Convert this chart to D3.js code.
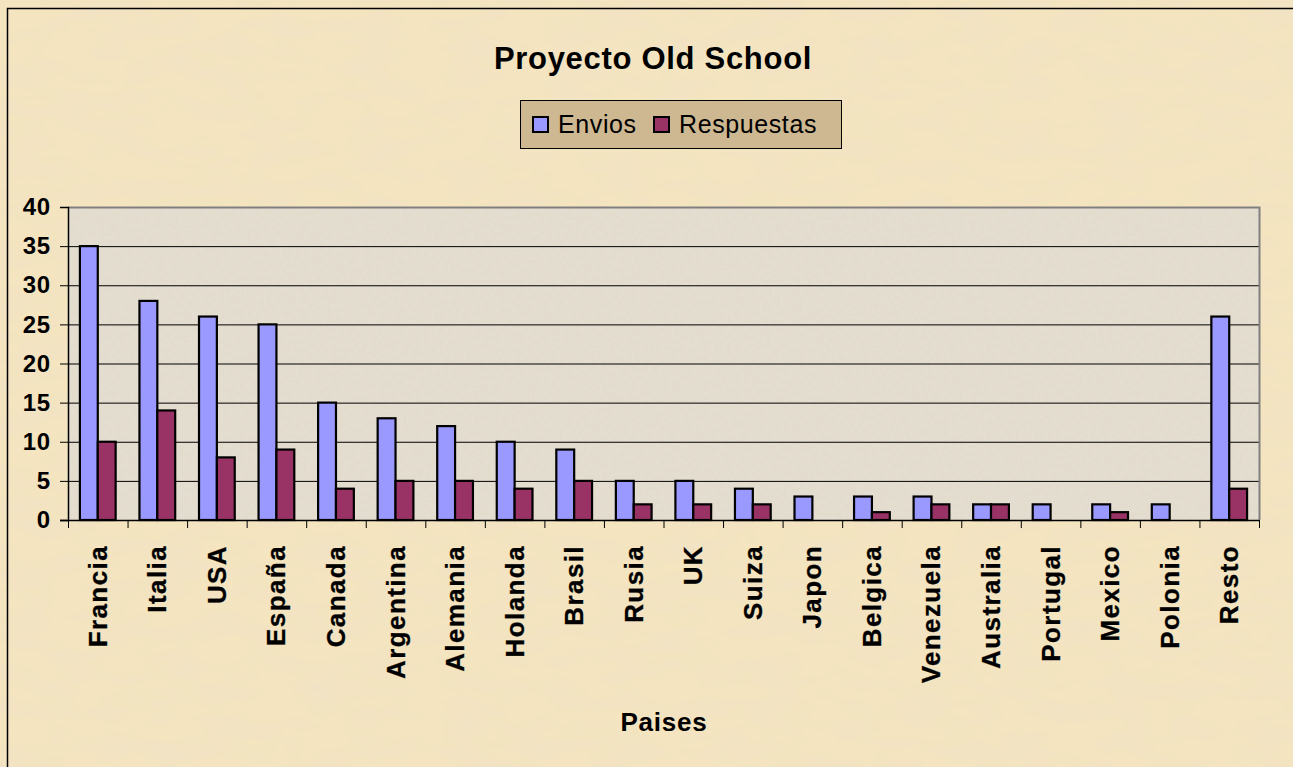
<!DOCTYPE html>
<html>
<head>
<meta charset="utf-8">
<script src="https://cdn.jsdelivr.net/npm/d3@7"></script>
<style>
  html, body { margin: 0; padding: 0; background: #f3e2bb; }
  svg { display: block; font-family: "Liberation Sans", Arial, sans-serif; }
</style>
</head>
<body>
<svg id="chart" width="1293" height="767"></svg>
<script>
const paises = ['Francia', 'Italia', 'USA', 'España', 'Canada', 'Argentina', 'Alemania', 'Holanda', 'Brasil', 'Rusia',
  'UK', 'Suiza', 'Japon', 'Belgica', 'Venezuela', 'Australia', 'Portugal', 'Mexico', 'Polonia', 'Resto']
const envios = [35, 28, 26, 25, 15, 13, 12, 10, 9, 5, 5, 4, 3, 3, 3, 2, 2, 2, 2, 26]
const respuestas = [10, 14, 8, 9, 4, 5, 5, 4, 5, 2, 2, 2, 0, 1, 2, 2, 0, 1, 0, 4]
const series = ['Envios', 'Respuestas']
const colors = ['#9999ff', '#993366']
const yTicks = [0, 5, 10, 15, 20, 25, 30, 35, 40]

const width = 1293
const height = 767
const plot = { left: 68, right: 1259, top: 207, bottom: 520 }

const svg = d3.select('#chart')
const defs = svg.append('defs')

// parchment texture for the page
const f1 = defs.append('filter').attr('id', 'paper').attr('x', 0).attr('y', 0).attr('width', '100%').attr('height', '100%')
f1.append('feTurbulence').attr('type', 'fractalNoise').attr('baseFrequency', '0.02 0.05').attr('numOctaves', 3).attr('seed', 4).attr('result', 'n')
f1.append('feColorMatrix').attr('in', 'n').attr('type', 'matrix')
  .attr('values', '0 0 0 0 0.88  0 0 0 0 0.76  0 0 0 0 0.56  0 0 0 1.6 -0.55')
  .attr('result', 'tint')
f1.append('feComposite').attr('in', 'tint').attr('in2', 'SourceGraphic').attr('operator', 'atop')

// greyish texture for the plot area
const f2 = defs.append('filter').attr('id', 'stone').attr('x', 0).attr('y', 0).attr('width', '100%').attr('height', '100%')
f2.append('feTurbulence').attr('type', 'fractalNoise').attr('baseFrequency', '0.25').attr('numOctaves', 2).attr('seed', 7).attr('result', 'n')
f2.append('feColorMatrix').attr('in', 'n').attr('type', 'matrix')
  .attr('values', '0 0 0 0 0.78  0 0 0 0 0.75  0 0 0 0 0.70  0 0 0 0.8 -0.25')
  .attr('result', 'tint')
f2.append('feComposite').attr('in', 'tint').attr('in2', 'SourceGraphic').attr('operator', 'atop')

svg.append('rect').attr('width', width).attr('height', height).attr('fill', '#f4e4bf').attr('filter', 'url(#paper)')
svg.append('rect').attr('x', 7.5).attr('y', 8.5).attr('width', width).attr('height', height)
  .attr('fill', 'none').attr('stroke', '#000').attr('stroke-width', 1.5)

const x0 = d3.scaleBand().domain(paises).range([plot.left, plot.right]).paddingInner(0.4).paddingOuter(0.2)
const x1 = d3.scaleBand().domain(series).range([0, x0.bandwidth()])
const y = d3.scaleLinear().domain([0, 40]).range([plot.bottom, plot.top])

// plot area
svg.append('rect')
  .attr('x', plot.left).attr('y', plot.top)
  .attr('width', plot.right - plot.left).attr('height', plot.bottom - plot.top)
  .attr('fill', '#e3dccd').attr('filter', 'url(#stone)')

svg.append('g').selectAll('line')
  .data(yTicks.filter(d => d > 0 && d < 40))
  .join('line')
  .attr('x1', plot.left).attr('x2', plot.right)
  .attr('y1', d => y(d) + 0.5).attr('y2', d => y(d) + 0.5)
  .attr('stroke', '#000').attr('stroke-width', 1)

// frame of plot area (grey top/right)
svg.append('path')
  .attr('d', `M${plot.left},${y(40) + 0.5}H${plot.right + 0.5}V${plot.bottom}`)
  .attr('fill', 'none').attr('stroke', '#808080').attr('stroke-width', 2)

// bars
const rows = paises.map((p, i) => ({ pais: p, values: [envios[i], respuestas[i]] }))
const groups = svg.append('g').selectAll('g')
  .data(rows)
  .join('g')
  .attr('transform', d => `translate(${x0(d.pais)},0)`)

groups.selectAll('rect')
  .data(d => d.values.map((v, k) => ({ key: series[k], value: v, k })))
  .join('rect')
  .filter(d => d.value > 0)
  .attr('x', d => x1(d.key))
  .attr('y', d => y(d.value))
  .attr('width', x1.bandwidth())
  .attr('height', d => y(0) - y(d.value))
  .attr('fill', d => colors[d.k])
  .attr('stroke', '#000').attr('stroke-width', 2.2)

// y axis
const yAxis = svg.append('g')
  .attr('transform', `translate(${plot.left},0)`)
  .call(d3.axisLeft(y).tickValues(yTicks).tickSize(8).tickPadding(9))
yAxis.select('.domain').attr('stroke', '#000').attr('stroke-width', 1.5)
yAxis.selectAll('text').attr('font-size', 24).attr('font-weight', 'bold').attr('fill', '#000')
  .attr('font-family', '"Liberation Sans", Arial, sans-serif')
  .attr('letter-spacing', 0.8)

// x axis
const xTickPos = paises.map((p, i) => plot.left + i * (plot.right - plot.left) / paises.length).concat([plot.right])
const xAxis = svg.append('g')
svg.append('line')
  .attr('x1', plot.left - 8).attr('x2', plot.right)
  .attr('y1', plot.bottom + 0.5).attr('y2', plot.bottom + 0.5)
  .attr('stroke', '#000').attr('stroke-width', 1.5)
xAxis.selectAll('line')
  .data(xTickPos)
  .join('line')
  .attr('x1', d => d + 0.5).attr('x2', d => d + 0.5)
  .attr('y1', plot.bottom).attr('y2', plot.bottom + 8)
  .attr('stroke', '#000')

xAxis.selectAll('text')
  .data(paises)
  .join('text')
  .attr('transform', d => `translate(${x0(d) + x0.bandwidth() / 2 + 9},545) rotate(-90)`)
  .attr('text-anchor', 'end')
  .attr('font-size', 26).attr('font-weight', 'bold')
  .attr('letter-spacing', 1.4)
  .attr('stroke', '#000').attr('stroke-width', 0.3)
  .text(d => d)

// titles
svg.append('text')
  .attr('x', 653).attr('y', 69)
  .attr('text-anchor', 'middle')
  .attr('font-size', 31).attr('font-weight', 'bold')
  .attr('letter-spacing', 0.7)
  .text('Proyecto Old School')

svg.append('text')
  .attr('x', 664).attr('y', 731)
  .attr('text-anchor', 'middle')
  .attr('font-size', 26).attr('font-weight', 'bold')
  .attr('letter-spacing', 0.8)
  .text('Paises')

// legend
const legend = svg.append('g').attr('transform', 'translate(520,100)')
legend.append('rect')
  .attr('x', 0.5).attr('y', 0.5).attr('width', 321).attr('height', 48)
  .attr('fill', '#cdb891').attr('stroke', '#000').attr('stroke-width', 1)
const legendX = [13, 134]
const items = legend.selectAll('g.item')
  .data(series)
  .join('g')
  .attr('class', 'item')
  .attr('transform', (d, i) => `translate(${legendX[i]},0)`)
items.append('rect')
  .attr('x', 0).attr('y', 17).attr('width', 15).attr('height', 15)
  .attr('fill', (d, i) => colors[i]).attr('stroke', '#000').attr('stroke-width', 2)
items.append('text')
  .attr('x', 25).attr('y', 33)
  .attr('font-size', 25)
  .attr('letter-spacing', 0.6)
  .text(d => d)
</script>
</body>
</html>
